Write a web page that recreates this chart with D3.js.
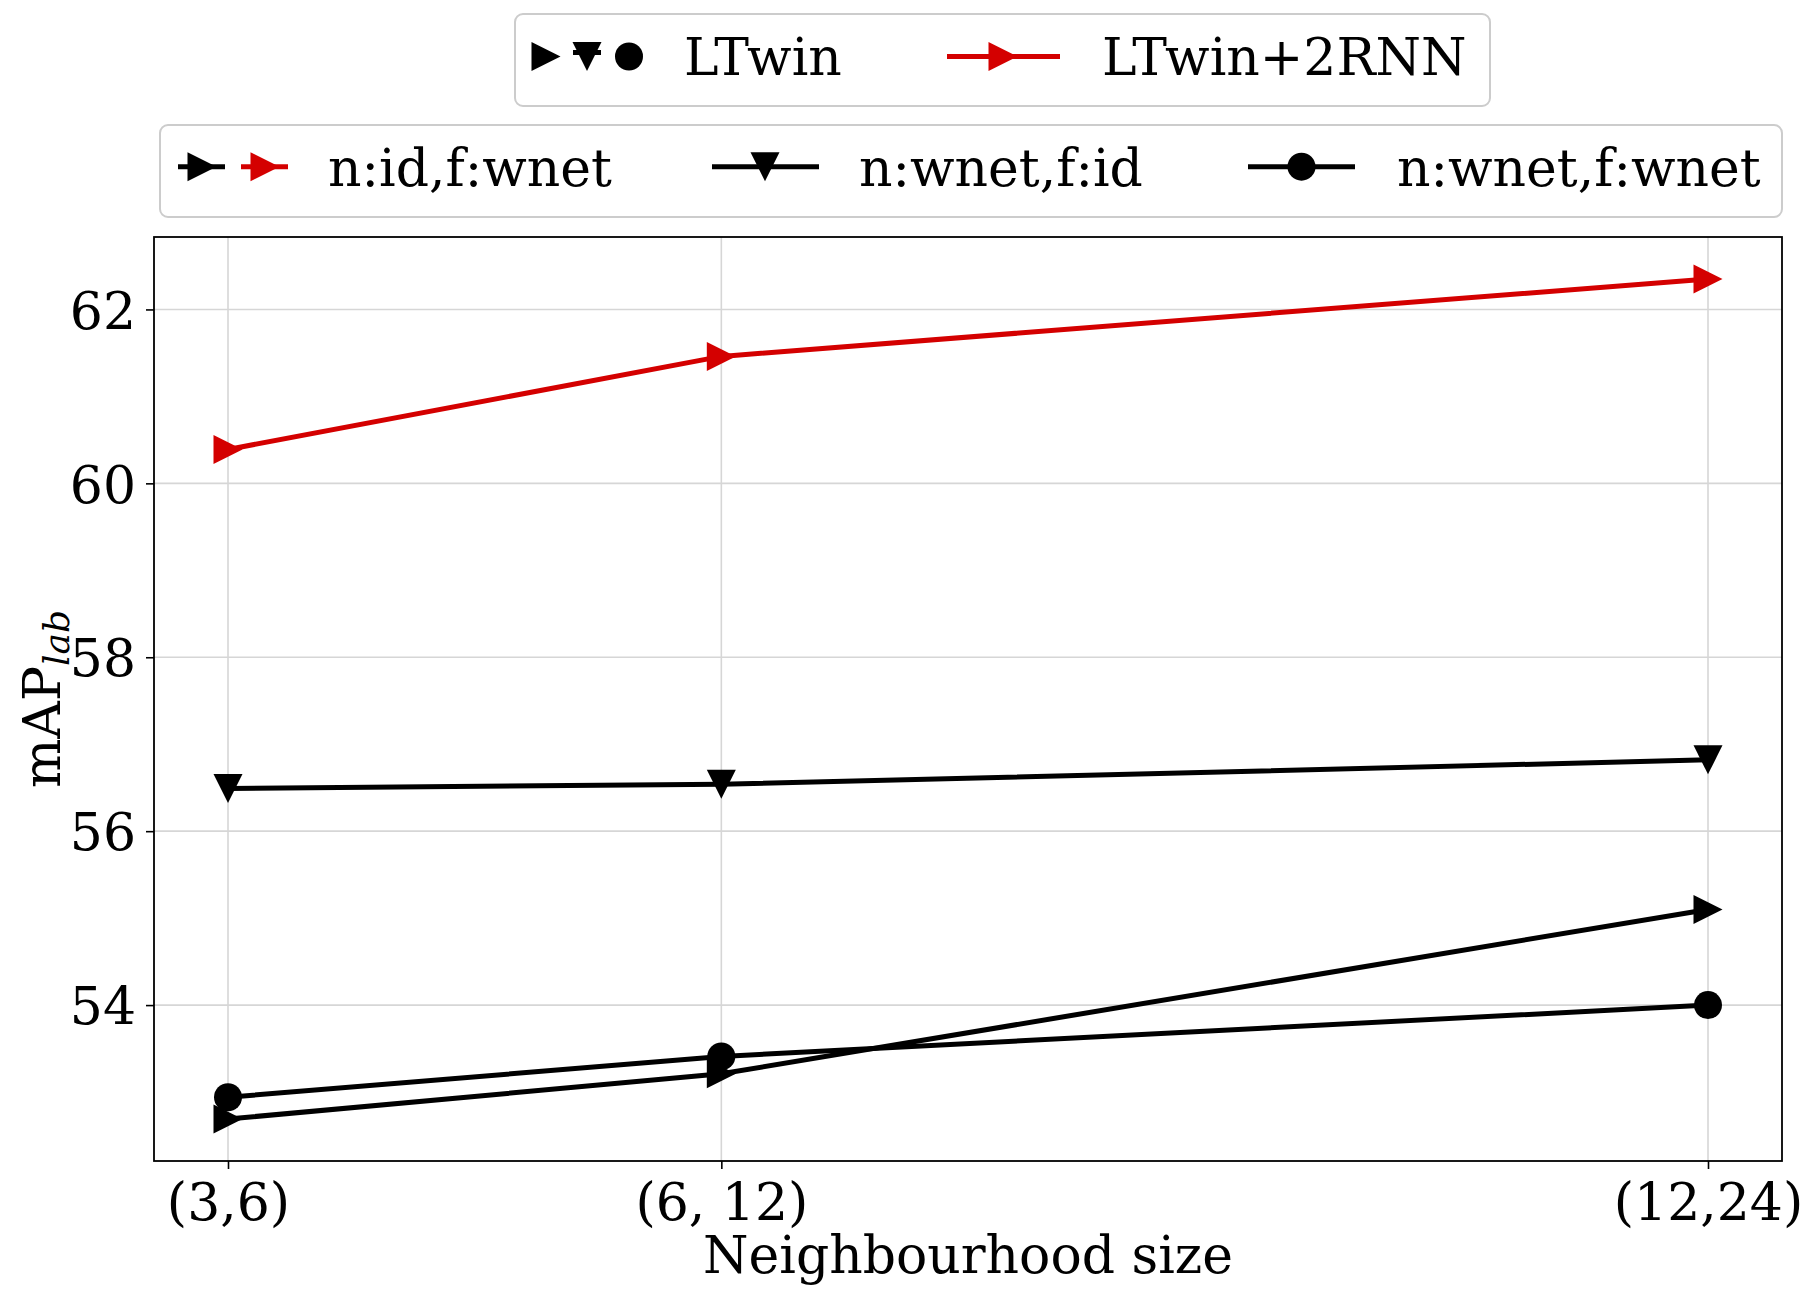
<!DOCTYPE html>
<html>
<head>
<meta charset="utf-8">
<script src="https://cdn.jsdelivr.net/npm/d3@7"></script>
<style>
  html, body { margin: 0; padding: 0; background: #fff; }
  svg { display: block; font-family: "DejaVu Serif", serif; }
</style>
</head>
<body>
<svg id="chart" width="1818" height="1301"></svg>
<script>
// ---- data ----
const categories = ["(3,6)", "(6, 12)", "(12,24)"];
const xValues = [3, 6, 12];
const ltwinIdWnet = [52.69, 53.21, 55.10];
const ltwinWnetId = [56.49, 56.54, 56.82];
const ltwinWnetWnet = [52.94, 53.41, 54.00];
const rnnIdWnet = [60.39, 61.46, 62.35];
const yTicks = [54, 56, 58, 60, 62];

const RED = "#d40000";
const BLACK = "#000000";

const series = [
  { name: "LTwin n:wnet,f:id", values: ltwinWnetId, color: BLACK, marker: "down" },
  { name: "LTwin n:wnet,f:wnet", values: ltwinWnetWnet, color: BLACK, marker: "circle" },
  { name: "LTwin n:id,f:wnet", values: ltwinIdWnet, color: BLACK, marker: "right" },
  { name: "LTwin+2RNN n:id,f:wnet", values: rnnIdWnet, color: RED, marker: "right" }
];

// ---- layout ----
const svg = d3.select("#chart");
const plot = { left: 154, right: 1782, top: 237, bottom: 1161 };
const FS = 52;
const LW = 5;

// matplotlib-like 5% margins
const xr = d3.extent(xValues);
const xm = (xr[1] - xr[0]) * 0.05;
const allY = series.flatMap(s => s.values);
const yr = d3.extent(allY);
const ym = (yr[1] - yr[0]) * 0.05;

const x = d3.scaleLinear().domain([xr[0] - xm, xr[1] + xm]).range([plot.left, plot.right]);
const y = d3.scaleLinear().domain([yr[0] - ym, yr[1] + ym]).range([plot.bottom, plot.top]);

// grid
const grid = svg.append("g");
grid.selectAll("line.gx").data(xValues).join("line")
  .attr("x1", d => x(d)).attr("x2", d => x(d))
  .attr("y1", plot.top).attr("y2", plot.bottom)
  .attr("stroke", "#d6d6d6").attr("stroke-width", 1.6);
grid.selectAll("line.gy").data(yTicks).join("line")
  .attr("x1", plot.left).attr("x2", plot.right)
  .attr("y1", d => y(d)).attr("y2", d => y(d))
  .attr("stroke", "#d6d6d6").attr("stroke-width", 1.6);

// axes
const xAxis = d3.axisBottom(x).tickValues(xValues).tickFormat((d, i) => categories[i])
  .tickSize(8).tickPadding(10);
const gx = svg.append("g").attr("transform", `translate(0,${plot.bottom})`).call(xAxis);
gx.select(".domain").remove();
gx.selectAll("line").attr("stroke", "#000").attr("stroke-width", 1.6);
gx.selectAll("text").attr("font-size", FS).attr("fill", "#000")
  .attr("font-family", "DejaVu Serif").attr("dy", "0.78em");

const yAxis = d3.axisLeft(y).tickValues(yTicks).tickFormat(d3.format("d"))
  .tickSize(8).tickPadding(10);
const gy = svg.append("g").attr("transform", `translate(${plot.left},0)`).call(yAxis);
gy.select(".domain").remove();
gy.selectAll("line").attr("stroke", "#000").attr("stroke-width", 1.6);
gy.selectAll("text").attr("font-size", FS).attr("fill", "#000")
  .attr("font-family", "DejaVu Serif").attr("dy", "0.36em");

// marker shapes
function markerPath(type, r) {
  if (type === "right") return `M${-r},${-r}L${r},0L${-r},${r}Z`;
  if (type === "down") return `M${-r},${-r}L${r},${-r}L0,${r}Z`;
  return null;
}
function drawMarker(g, type, cx, cy, color, r) {
  if (type === "circle") {
    g.append("circle").attr("cx", cx).attr("cy", cy).attr("r", r).attr("fill", color);
  } else {
    g.append("path").attr("d", markerPath(type, r))
      .attr("transform", `translate(${cx},${cy})`).attr("fill", color);
  }
}

// lines
const line = d3.line().x((d, i) => x(xValues[i])).y(d => y(d));
const gl = svg.append("g");
series.forEach(s => {
  gl.append("path").datum(s.values).attr("d", line)
    .attr("fill", "none").attr("stroke", s.color).attr("stroke-width", LW)
    .attr("stroke-linejoin", "round");
});
series.forEach(s => {
  s.values.forEach((v, i) => drawMarker(gl, s.marker, x(xValues[i]), y(v), s.color, s.marker === "circle" ? 14 : 14.5));
});

// frame
svg.append("rect").attr("x", plot.left).attr("y", plot.top)
  .attr("width", plot.right - plot.left).attr("height", plot.bottom - plot.top)
  .attr("fill", "none").attr("stroke", "#000").attr("stroke-width", 1.8);

// axis labels
svg.append("text").attr("x", (plot.left + plot.right) / 2).attr("y", 1273)
  .attr("text-anchor", "middle").attr("font-size", FS).text("Neighbourhood size");

const yl = svg.append("text").attr("transform", `translate(60,${(plot.top + plot.bottom) / 2}) rotate(-90)`)
  .attr("text-anchor", "middle").attr("font-size", FS);
yl.append("tspan").text("mAP");
yl.append("tspan").attr("font-size", 36).attr("font-style", "italic").attr("dy", 9).text("lab");

// ---- legends ----
const lb = svg.append("g");
const lg = svg.append("g");
function legendBox(x0, y0, x1, y1) {
  lb.append("rect").attr("x", x0).attr("y", y0).attr("width", x1 - x0).attr("height", y1 - y0)
    .attr("rx", 8).attr("ry", 8).attr("fill", "#fff").attr("stroke", "#cccccc").attr("stroke-width", 2);
}

// legend 1
legendBox(515, 14, 1490, 106);
const l1y = 56.5;
drawMarker(lg, "right", 546, l1y, BLACK, 14.5);
lg.append("line").attr("x1", 573).attr("x2", 601).attr("y1", l1y - 4).attr("y2", l1y - 4)
  .attr("stroke", BLACK).attr("stroke-width", LW);
drawMarker(lg, "down", 587, l1y, BLACK, 14.5);
drawMarker(lg, "circle", 629, l1y, BLACK, 14);
lg.append("text").attr("x", 684).attr("y", 75).attr("font-size", FS).text("LTwin");
lg.append("line").attr("x1", 947).attr("x2", 1060).attr("y1", l1y).attr("y2", l1y)
  .attr("stroke", RED).attr("stroke-width", LW);
drawMarker(lg, "right", 1003, l1y, RED, 14.5);
lg.append("text").attr("x", 1102).attr("y", 75).attr("font-size", FS).text("LTwin+2RNN");

// legend 2
legendBox(160, 125, 1782, 217);
const l2y = 166.7;
lg.append("line").attr("x1", 178).attr("x2", 225).attr("y1", l2y).attr("y2", l2y)
  .attr("stroke", BLACK).attr("stroke-width", LW);
drawMarker(lg, "right", 202, l2y, BLACK, 14.5);
lg.append("line").attr("x1", 241).attr("x2", 288).attr("y1", l2y).attr("y2", l2y)
  .attr("stroke", RED).attr("stroke-width", LW);
drawMarker(lg, "right", 265, l2y, RED, 14.5);
lg.append("text").attr("x", 328).attr("y", 186).attr("font-size", FS).text("n:id,f:wnet");

lg.append("line").attr("x1", 712).attr("x2", 819).attr("y1", l2y).attr("y2", l2y)
  .attr("stroke", BLACK).attr("stroke-width", LW);
drawMarker(lg, "down", 765, l2y, BLACK, 14.5);
lg.append("text").attr("x", 859).attr("y", 186).attr("font-size", FS).text("n:wnet,f:id");

lg.append("line").attr("x1", 1248).attr("x2", 1355).attr("y1", l2y).attr("y2", l2y)
  .attr("stroke", BLACK).attr("stroke-width", LW);
drawMarker(lg, "circle", 1301.5, l2y, BLACK, 14);
lg.append("text").attr("x", 1397).attr("y", 186).attr("font-size", FS).text("n:wnet,f:wnet");
</script>
</body>
</html>
